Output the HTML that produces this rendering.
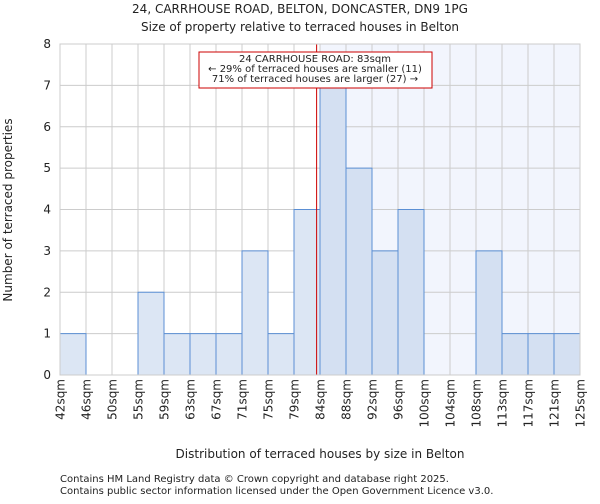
<!DOCTYPE html>
<html><head><meta charset="utf-8">
<style>
body{margin:0;background:#fff;font-family:"DejaVu Sans","Liberation Sans",sans-serif;}
svg text{font-family:"DejaVu Sans","Liberation Sans",sans-serif;fill:#222;}
</style></head>
<body>
<svg id="chart" width="600" height="500" xmlns="http://www.w3.org/2000/svg">
<text x="300" y="13" text-anchor="middle" font-size="12">24, CARRHOUSE ROAD, BELTON, DONCASTER, DN9 1PG</text>
<text x="300" y="31" text-anchor="middle" font-size="12">Size of property relative to terraced houses in Belton</text>
<g id="plot"></g>
<text x="320" y="458" text-anchor="middle" font-size="12">Distribution of terraced houses by size in Belton</text>
<text transform="translate(12,210) rotate(-90)" text-anchor="middle" font-size="12">Number of terraced properties</text>
<text x="60" y="482" font-size="10" fill="#444">Contains HM Land Registry data © Crown copyright and database right 2025.</text>
<text x="60" y="494" font-size="10" fill="#444">Contains public sector information licensed under the Open Government Licence v3.0.</text>
</svg>
<script>
const binLabels=["42sqm","46sqm","50sqm","55sqm","59sqm","63sqm","67sqm","71sqm","75sqm","79sqm","84sqm","88sqm","92sqm","96sqm","100sqm","104sqm","108sqm","113sqm","117sqm","121sqm","125sqm"];
const counts=[1,0,0,2,1,1,1,3,1,4,7,5,3,4,0,0,3,1,1,1];
const yTicks=[0,1,2,3,4,5,6,7,8];
const markerBinPos=9.87;
const L=60,R=580,T=44,B=375,yMax=8;
const nb=counts.length,bw=(R-L)/nb;
const xs=i=>L+i*bw;
const ys=v=>B-(v/yMax)*(B-T);
const NS="http://www.w3.org/2000/svg";
const g=document.getElementById('plot');
function mk(tag,attrs){const e=document.createElementNS(NS,tag);for(const k in attrs)e.setAttribute(k,attrs[k]);g.appendChild(e);return e;}
const highlightStart=Math.ceil(markerBinPos);
let e=mk('rect',{x:xs(highlightStart),y:T,width:R-xs(highlightStart),height:B-T,fill:'#f2f5fd'});


yTicks.forEach(t=>{
 let l=mk('line',{x1:L,x2:R,y1:ys(t),y2:ys(t),stroke:'#cccccc'});
 
 
 let tx=mk('text',{x:L-9,y:ys(t)+4,'text-anchor':'end','font-size':'12'});tx.textContent=t;
 
 
});
binLabels.forEach((lab,i)=>{
 let l=mk('line',{x1:xs(i),x2:xs(i),y1:T,y2:B,stroke:'#cccccc'});
 
 
 let tx=mk('text',{transform:`translate(${xs(i)+4.5},${B+4}) rotate(-90)`,'text-anchor':'end','font-size':'12'});tx.textContent=lab;
 
 
});
counts.forEach((c,i)=>{
 if(c<=0)return;
 let r=mk('rect',{x:xs(i),y:ys(c),width:bw,height:B-ys(c),fill:i>=highlightStart?'#d4e0f2':'#dce6f4',stroke:'#5b8fd4','stroke-width':1});
 
 
});
let ml=mk('line',{x1:xs(markerBinPos),x2:xs(markerBinPos),y1:T,y2:B,stroke:'#cc0000','stroke-width':1});


let box=mk('rect',{x:199,y:52,width:233,height:36,fill:'#fff',stroke:'#cc0000','stroke-width':1});


[["24 CARRHOUSE ROAD: 83sqm",62],["← 29% of terraced houses are smaller (11)",72],["71% of terraced houses are larger (27) →",82]].forEach(([s,y])=>{
 let t=mk('text',{x:315,y:y,'text-anchor':'middle','font-size':'10'});t.textContent=s;
 
 
});
let ax=mk('rect',{x:L,y:T,width:R-L,height:B-T,fill:'none',stroke:'#cccccc'});


</script>
</body></html>
